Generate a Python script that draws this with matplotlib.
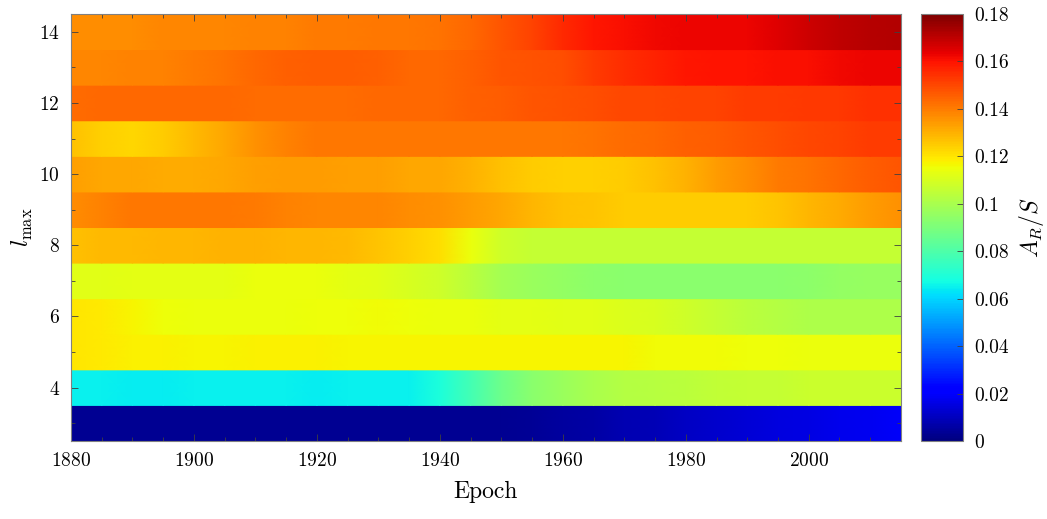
import numpy as np
import matplotlib
matplotlib.use("Agg")
import matplotlib.pyplot as plt
from matplotlib.ticker import MultipleLocator, FixedLocator

plt.rcParams['font.family'] = 'serif'
plt.rcParams['font.serif'] = ['cmr10']
plt.rcParams['mathtext.fontset'] = 'cm'
plt.rcParams['axes.formatter.use_mathtext'] = True

# epochs (5-year steps) and truncation degrees
epochs = np.arange(1880, 2016, 5)
lmax = list(range(3, 15))

# A_R/S per row (l_max = 3 .. 14), one value per epoch
r3 = [0.003, 0.003, 0.003, 0.003, 0.003, 0.003, 0.003, 0.003, 0.003, 0.003, 0.003, 0.003, 0.003, 0.003,
      0.003, 0.004, 0.005, 0.006, 0.008, 0.009, 0.011, 0.012, 0.014, 0.015, 0.016, 0.017, 0.018, 0.019]
r4 = [0.065, 0.065, 0.064, 0.064, 0.065, 0.065, 0.065, 0.065, 0.064, 0.065, 0.065, 0.065, 0.069, 0.078,
      0.087, 0.093, 0.097, 0.100, 0.102, 0.103, 0.104, 0.105, 0.106, 0.106, 0.107, 0.107, 0.107, 0.107]
r5 = [0.120, 0.119, 0.118, 0.118, 0.117, 0.117, 0.118, 0.118, 0.118, 0.117, 0.117, 0.117, 0.117, 0.117,
      0.117, 0.117, 0.117, 0.117, 0.117, 0.116, 0.116, 0.116, 0.115, 0.115, 0.114, 0.114, 0.114, 0.114]
r6 = [0.120, 0.119, 0.117, 0.115, 0.114, 0.114, 0.114, 0.114, 0.115, 0.115, 0.116, 0.115, 0.114, 0.114,
      0.113, 0.113, 0.112, 0.112, 0.111, 0.110, 0.108, 0.106, 0.104, 0.102, 0.101, 0.101, 0.101, 0.101]
r7 = [0.112, 0.112, 0.113, 0.113, 0.113, 0.113, 0.114, 0.114, 0.114, 0.113, 0.112, 0.110, 0.108, 0.104,
      0.099, 0.097, 0.095, 0.094, 0.093, 0.093, 0.093, 0.093, 0.093, 0.093, 0.094, 0.095, 0.096, 0.096]
r8 = [0.127, 0.128, 0.128, 0.129, 0.129, 0.130, 0.130, 0.129, 0.129, 0.128, 0.126, 0.124, 0.121, 0.114,
      0.108, 0.106, 0.106, 0.106, 0.106, 0.106, 0.106, 0.106, 0.106, 0.106, 0.106, 0.106, 0.106, 0.106]
r9 = [0.137, 0.139, 0.141, 0.141, 0.141, 0.141, 0.140, 0.139, 0.138, 0.138, 0.138, 0.137, 0.136, 0.134,
      0.132, 0.129, 0.127, 0.126, 0.125, 0.125, 0.125, 0.125, 0.125, 0.126, 0.129, 0.131, 0.134, 0.136]
r10 = [0.133, 0.132, 0.132, 0.131, 0.131, 0.132, 0.133, 0.134, 0.134, 0.133, 0.133, 0.132, 0.132, 0.130,
       0.127, 0.125, 0.124, 0.124, 0.125, 0.127, 0.130, 0.134, 0.137, 0.140, 0.142, 0.144, 0.146, 0.147]
r11 = [0.127, 0.124, 0.123, 0.125, 0.128, 0.132, 0.136, 0.139, 0.141, 0.141, 0.141, 0.141, 0.141, 0.141,
       0.141, 0.141, 0.141, 0.142, 0.143, 0.144, 0.145, 0.146, 0.147, 0.149, 0.150, 0.151, 0.152, 0.152]
r12 = [0.143, 0.144, 0.144, 0.144, 0.144, 0.144, 0.143, 0.143, 0.143, 0.143, 0.144, 0.144, 0.144, 0.145,
       0.146, 0.147, 0.148, 0.149, 0.150, 0.150, 0.151, 0.151, 0.152, 0.152, 0.153, 0.153, 0.154, 0.154]
r13 = [0.138, 0.138, 0.139, 0.139, 0.140, 0.142, 0.144, 0.145, 0.146, 0.146, 0.145, 0.144, 0.144, 0.145,
       0.147, 0.148, 0.149, 0.152, 0.155, 0.157, 0.159, 0.160, 0.160, 0.161, 0.161, 0.162, 0.163, 0.163]
r14 = [0.137, 0.137, 0.137, 0.138, 0.138, 0.138, 0.139, 0.139, 0.140, 0.140, 0.141, 0.141, 0.142, 0.144,
       0.147, 0.151, 0.156, 0.159, 0.161, 0.162, 0.163, 0.163, 0.163, 0.165, 0.168, 0.170, 0.171, 0.172]
rows = [r3, r4, r5, r6, r7, r8, r9, r10, r11, r12, r13, r14]

fig = plt.figure(figsize=(10.47, 5.19), dpi=100)
ax = fig.add_axes([0.0678, 0.1503, 0.7927, 0.8227])
cax = fig.add_axes([0.8797, 0.1503, 0.0401, 0.8227])

# each row is a band, shaded smoothly along the epoch axis
for l, vals in zip(lmax, rows):
    X = np.vstack([epochs, epochs])
    Y = np.vstack([np.full(len(epochs), l - 0.5), np.full(len(epochs), l + 0.5)])
    C = np.vstack([vals, vals])
    m = ax.pcolormesh(X, Y, C, shading='gouraud', cmap='jet', vmin=0, vmax=0.18,
                      rasterized=True)

ax.set_xlim(1880, 2015)
ax.set_ylim(2.5, 14.5)
ax.xaxis.set_major_locator(FixedLocator([1880, 1900, 1920, 1940, 1960, 1980, 2000]))
ax.xaxis.set_minor_locator(MultipleLocator(5))
ax.yaxis.set_major_locator(MultipleLocator(2))
ax.yaxis.set_minor_locator(MultipleLocator(1))
ax.tick_params(which='both', direction='in', top=True, right=True, labelsize=14,
               color='0.25', width=0.6)
ax.tick_params(which='major', length=5, pad=8)
ax.tick_params(which='minor', length=3)
for s in ax.spines.values():
    s.set_edgecolor('0.5')
    s.set_linewidth(0.8)

ax.set_xlabel('Epoch', fontsize=17, labelpad=8)
ax.set_ylabel(r'$l_{\max}$', fontsize=17, labelpad=3)

cb = fig.colorbar(m, cax=cax)
ticks = [0, 0.02, 0.04, 0.06, 0.08, 0.1, 0.12, 0.14, 0.16, 0.18]
cb.set_ticks(ticks)
cb.set_ticklabels(['%g' % t for t in ticks])
cb.ax.tick_params(direction='in', labelsize=14, color='0.25', width=0.6, length=4, pad=8)
cb.outline.set_edgecolor('0.5')
cb.outline.set_linewidth(0.8)
cb.set_label(r'$A_R/S$', fontsize=17, labelpad=6)

fig.savefig('out.png', dpi=100)
